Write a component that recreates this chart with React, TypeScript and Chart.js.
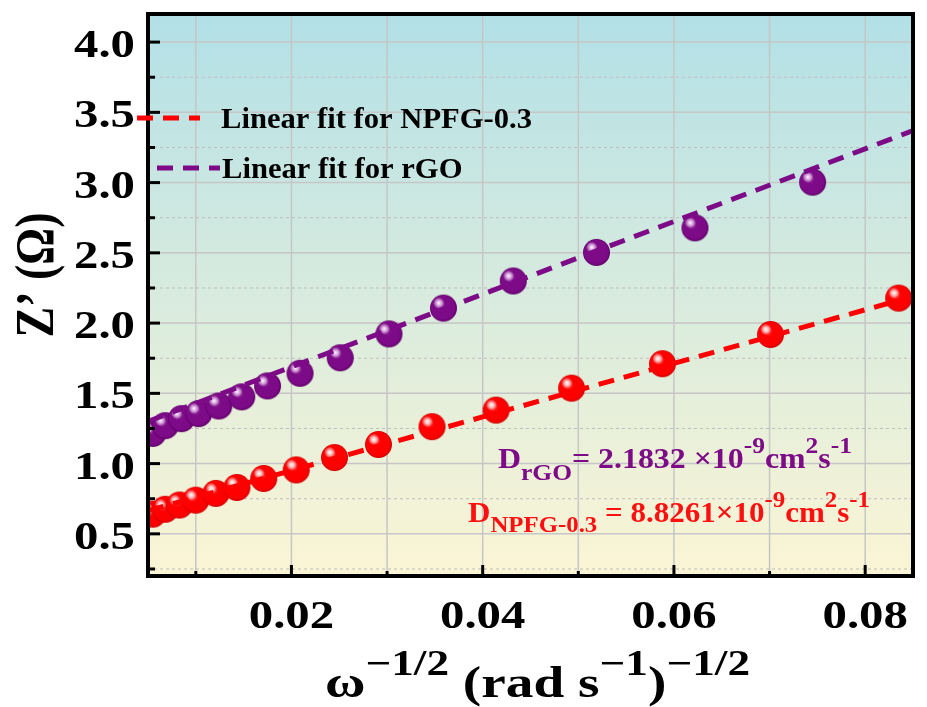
import React, { useEffect, useRef } from 'react';
import { Chart, registerables } from 'chart.js';
Chart.register(...registerables);

// ---- data ----
const npfgX = [0.0055, 0.0068, 0.0083, 0.0100, 0.0121, 0.0143, 0.0171, 0.0205, 0.0245, 0.0291, 0.0347, 0.0414, 0.0493, 0.0588, 0.0701, 0.0835];
const npfgY = [0.64, 0.675, 0.705, 0.74, 0.788, 0.83, 0.894, 0.955, 1.043, 1.136, 1.263, 1.381, 1.537, 1.711, 1.919, 2.178];
const rgoX = [0.0055, 0.0068, 0.0085, 0.0103, 0.0124, 0.0148, 0.0175, 0.0209, 0.0251, 0.0302, 0.0359, 0.0432, 0.0519, 0.0622, 0.0745];
const rgoY = [1.215, 1.27, 1.32, 1.356, 1.41, 1.475, 1.553, 1.643, 1.753, 1.923, 2.107, 2.30, 2.503, 2.678, 3.003];
const fitX = [0.005, 0.085];
const npfgFitY = [0.665, 2.19];
const rgoFitY = [1.30, 3.37];

const xMajorTicks = [0.02, 0.04, 0.06, 0.08];
const xMinorTicks = [0.01, 0.03, 0.05, 0.07];
const xGridValues = [0.01, 0.02, 0.03, 0.04, 0.05, 0.06, 0.07, 0.08];
const yMajorTicks = [0.5, 1.0, 1.5, 2.0, 2.5, 3.0, 3.5, 4.0];
const yMinorTicks = [0.25, 0.75, 1.25, 1.75, 2.25, 2.75, 3.25, 3.75];
const xTickLabels = ['0.02', '0.04', '0.06', '0.08'];
const yTickLabels = ['0.5', '1.0', '1.5', '2.0', '2.5', '3.0', '3.5', '4.0'];

const legendLabels = ['Linear fit for NPFG-0.3', 'Linear fit for rGO'];

const RED = '#ff0000';
const PURPLE = '#7d0a87';
const FAMILY = '"Liberation Serif"';
const FONT = `${FAMILY}, "Times New Roman", Times, serif`;
const HS = 1.19;

type Seg = { t: string; size: number; dy: number };

function segWidth(ctx: CanvasRenderingContext2D, segs: Seg[]) {
  let w = 0;
  for (const s of segs) {
    ctx.font = `bold ${s.size}px ${FONT}`;
    w += ctx.measureText(s.t).width;
  }
  return w;
}

function drawRich(ctx: CanvasRenderingContext2D, segs: Seg[], x: number, y: number, color: string, targetW: number) {
  const nat = segWidth(ctx, segs);
  const sc = targetW / nat;
  ctx.save();
  ctx.translate(x, y);
  ctx.scale(sc, 1);
  ctx.fillStyle = color;
  ctx.textAlign = 'left';
  ctx.textBaseline = 'alphabetic';
  let cx = 0;
  for (const s of segs) {
    ctx.font = `bold ${s.size}px ${FONT}`;
    ctx.fillText(s.t, cx, s.dy);
    cx += ctx.measureText(s.t).width;
  }
  ctx.restore();
}

function makeSphere(r: number, base: string, dark: string, light: string, hi: string) {
  const s = Math.ceil(r * 2) + 2;
  const c = document.createElement('canvas');
  c.width = s;
  c.height = s;
  const g = c.getContext('2d')!;
  const cx = s / 2, cy = s / 2;
  const grad = g.createRadialGradient(cx - r * 0.3, cy - r * 0.35, r * 0.05, cx, cy, r);
  grad.addColorStop(0, light);
  grad.addColorStop(0.35, base);
  grad.addColorStop(0.85, base);
  grad.addColorStop(1, dark);
  g.beginPath();
  g.arc(cx, cy, r, 0, Math.PI * 2);
  g.fillStyle = grad;
  g.fill();
  const hx = cx - r * 0.35, hy = cy - r * 0.38;
  const h = g.createRadialGradient(hx, hy, 0, hx, hy, r * 0.42);
  h.addColorStop(0, 'rgba(255,255,255,1)');
  h.addColorStop(0.35, hi);
  h.addColorStop(1, 'rgba(255,255,255,0)');
  g.beginPath();
  g.arc(hx, hy, r * 0.42, 0, Math.PI * 2);
  g.fillStyle = h;
  g.fill();
  return c;
}

const framePlugin = {
  id: 'framePlugin',
  beforeDatasetsDraw(chart: any) {
    const { ctx, chartArea: a, scales } = chart;
    const xs = scales.x, ys = scales.y;
    ctx.save();
    const gr = ctx.createLinearGradient(0, a.top, 0, a.bottom);
    gr.addColorStop(0, '#b2e0e7');
    gr.addColorStop(0.5, '#d8ebde');
    gr.addColorStop(1, '#fbf5d5');
    ctx.fillStyle = gr;
    ctx.fillRect(a.left, a.top, a.right - a.left, a.bottom - a.top);
    ctx.strokeStyle = '#c6c6c6';
    ctx.lineWidth = 1.5;
    for (const v of xGridValues) {
      const px = xs.getPixelForValue(v);
      ctx.beginPath();
      ctx.moveTo(px, a.top);
      ctx.lineTo(px, a.bottom);
      ctx.stroke();
    }
    for (const v of yMajorTicks) {
      const py = ys.getPixelForValue(v);
      ctx.beginPath();
      ctx.moveTo(a.left, py);
      ctx.lineTo(a.right, py);
      ctx.stroke();
    }
    ctx.setLineDash([3, 3]);
    ctx.lineWidth = 1;
    ctx.strokeStyle = '#bdbdbd';
    for (const v of yMinorTicks) {
      const py = ys.getPixelForValue(v);
      ctx.beginPath();
      ctx.moveTo(a.left, py);
      ctx.lineTo(a.right, py);
      ctx.stroke();
    }
    ctx.restore();
  },
  afterDatasetsDraw(chart: any) {
    const { ctx, chartArea: a, scales } = chart;
    const xs = scales.x, ys = scales.y;
    ctx.save();
    ctx.strokeStyle = '#000';
    ctx.lineWidth = 4;
    ctx.strokeRect(a.left, a.top, a.right - a.left, a.bottom - a.top);
    ctx.lineWidth = 3;
    for (const v of yMajorTicks) {
      const py = ys.getPixelForValue(v);
      ctx.beginPath(); ctx.moveTo(a.left, py); ctx.lineTo(a.left + 12, py); ctx.stroke();
    }
    for (const v of yMinorTicks) {
      const py = ys.getPixelForValue(v);
      ctx.beginPath(); ctx.moveTo(a.left, py); ctx.lineTo(a.left + 7, py); ctx.stroke();
    }
    for (const v of xMajorTicks) {
      const px = xs.getPixelForValue(v);
      ctx.beginPath(); ctx.moveTo(px, a.bottom); ctx.lineTo(px, a.bottom - 11); ctx.stroke();
    }
    for (const v of xMinorTicks) {
      const px = xs.getPixelForValue(v);
      ctx.beginPath(); ctx.moveTo(px, a.bottom); ctx.lineTo(px, a.bottom - 5); ctx.stroke();
    }
    // tick labels
    ctx.fillStyle = '#000';
    ctx.font = `bold 41px ${FONT}`;
    ctx.textBaseline = 'alphabetic';
    yMajorTicks.forEach((v, i) => {
      const py = ys.getPixelForValue(v);
      ctx.save();
      ctx.translate(a.left - 13, py + 15);
      ctx.scale(HS, 1);
      ctx.textAlign = 'right';
      ctx.fillText(yTickLabels[i], 0, 0);
      ctx.restore();
    });
    xMajorTicks.forEach((v, i) => {
      const px = xs.getPixelForValue(v);
      ctx.save();
      ctx.translate(px, 628);
      ctx.scale(HS, 1);
      ctx.textAlign = 'center';
      ctx.fillText(xTickLabels[i], 0, 0);
      ctx.restore();
    });
    // y title
    ctx.save();
    ctx.translate(53, 275);
    ctx.rotate(-Math.PI / 2);
    ctx.scale(1, HS);
    ctx.font = `bold 46px ${FONT}`;
    ctx.textAlign = 'center';
    ctx.textBaseline = 'alphabetic';
    ctx.fillText('Z\u2019 (\u03A9)', 0, 0);
    ctx.restore();
    // x title
    const xt: Seg[] = [
      { t: '\u03C9', size: 44, dy: 0 },
      { t: '\u22121/2', size: 36, dy: -22 },
      { t: ' (rad s', size: 44, dy: 0 },
      { t: '\u22121', size: 36, dy: -22 },
      { t: ')', size: 44, dy: 0 },
      { t: '\u22121/2', size: 36, dy: -22 },
    ];
    drawRich(ctx, xt, 325, 697, '#000', 425);
    // legend
    ctx.lineWidth = 5;
    ctx.setLineDash([16, 10]);
    ctx.strokeStyle = RED;
    ctx.beginPath(); ctx.moveTo(137, 118); ctx.lineTo(200, 118); ctx.stroke();
    ctx.strokeStyle = PURPLE;
    ctx.beginPath(); ctx.moveTo(157, 168); ctx.lineTo(220, 168); ctx.stroke();
    ctx.setLineDash([]);
    ctx.font = `bold 30px ${FONT}`;
    const lw = ctx.measureText(legendLabels[0]).width;
    const ls = 311 / lw;
    ctx.fillStyle = '#000';
    ctx.textAlign = 'left';
    ctx.save(); ctx.translate(221, 128); ctx.scale(ls, 1); ctx.fillText(legendLabels[0], 0, 0); ctx.restore();
    ctx.save(); ctx.translate(222, 178); ctx.scale(ls, 1); ctx.fillText(legendLabels[1], 0, 0); ctx.restore();
    // annotations
    const a1: Seg[] = [
      { t: 'D', size: 30, dy: 0 },
      { t: 'rGO', size: 24, dy: 12 },
      { t: '= 2.1832 \u00D710', size: 30, dy: 0 },
      { t: '-9', size: 24, dy: -15 },
      { t: 'cm', size: 30, dy: 0 },
      { t: '2', size: 24, dy: -15 },
      { t: 's', size: 30, dy: 0 },
      { t: '-1', size: 24, dy: -15 },
    ];
    drawRich(ctx, a1, 498, 468, PURPLE, 354);
    const a2: Seg[] = [
      { t: 'D', size: 30, dy: 0 },
      { t: 'NPFG-0.3', size: 24, dy: 10 },
      { t: ' = 8.8261\u00D710', size: 30, dy: 0 },
      { t: '-9', size: 24, dy: -15 },
      { t: 'cm', size: 30, dy: 0 },
      { t: '2', size: 24, dy: -15 },
      { t: 's', size: 30, dy: 0 },
      { t: '-1', size: 24, dy: -15 },
    ];
    drawRich(ctx, a2, 468, 522, '#ff1010', 402);
    ctx.restore();
  },
};

export default function App() {
  const ref = useRef<HTMLCanvasElement>(null);
  useEffect(() => {
    let chart: any = null;
    let cancelled = false;
    const build = () => {
      if (cancelled || !ref.current) return;
      const redBall = makeSphere(13.5, '#ff0000', '#d00000', '#ff5050', 'rgba(255,220,220,0.9)');
      const purpleBall = makeSphere(13.5, '#7d0a87', '#5e0066', '#9a3aa5', 'rgba(235,200,240,0.9)');
      chart = new Chart(ref.current, {
        type: 'scatter',
        data: {
          datasets: [
            {
              label: 'fit NPFG', type: 'line',
              data: fitX.map((x, i) => ({ x, y: npfgFitY[i] })),
              borderColor: RED, borderWidth: 5, borderDash: [16, 10], pointRadius: 0,
              showLine: true, fill: false, order: 0,
            },
            {
              label: 'fit rGO', type: 'line',
              data: fitX.map((x, i) => ({ x, y: rgoFitY[i] })),
              borderColor: PURPLE, borderWidth: 5, borderDash: [16, 10], pointRadius: 0,
              showLine: true, fill: false, order: 0,
            },
            {
              label: 'NPFG-0.3',
              data: npfgX.map((x, i) => ({ x, y: npfgY[i] })),
              pointStyle: redBall as any, pointRadius: 13, backgroundColor: RED, borderColor: RED,
              showLine: false, order: 1, clip: 0,
            },
            {
              label: 'rGO',
              data: rgoX.map((x, i) => ({ x, y: rgoY[i] })),
              pointStyle: purpleBall as any, pointRadius: 13, backgroundColor: PURPLE, borderColor: PURPLE,
              showLine: false, order: 1, clip: 0,
            },
          ] as any,
        },
        options: {
          animation: false,
          responsive: true,
          maintainAspectRatio: false,
          layout: { padding: { top: 12, right: 4, left: 0, bottom: 0 } },
          plugins: { legend: { display: false }, tooltip: { enabled: false } },
          scales: {
            x: {
              type: 'linear', min: 0.005, max: 0.085,
              grid: { display: false }, border: { display: false },
              ticks: { display: false },
              afterFit: (s: any) => { s.height = 131; },
            },
            y: {
              type: 'linear', min: 0.2, max: 4.2,
              grid: { display: false }, border: { display: false },
              ticks: { display: false },
              afterFit: (s: any) => { s.width = 148; },
            },
          },
        },
        plugins: [framePlugin],
      });
    };
    const loads = [
      `bold 40px ${FAMILY}`,
      `bold 40px "Times New Roman"`,
    ].map((f) => (document as any).fonts ? (document as any).fonts.load(f).catch(() => null) : Promise.resolve());
    Promise.all(loads).then(build, build);
    return () => {
      cancelled = true;
      if (chart) chart.destroy();
    };
  }, []);
  return (
    <div style={{ position: 'fixed', left: 0, top: 0, width: 927, height: 707, background: '#fff' }}>
      <span style={{ position: 'absolute', left: -9999, top: 0, fontFamily: FONT, fontWeight: 'bold' }}>Aa0.</span>
      <canvas ref={ref} />
    </div>
  );
}
